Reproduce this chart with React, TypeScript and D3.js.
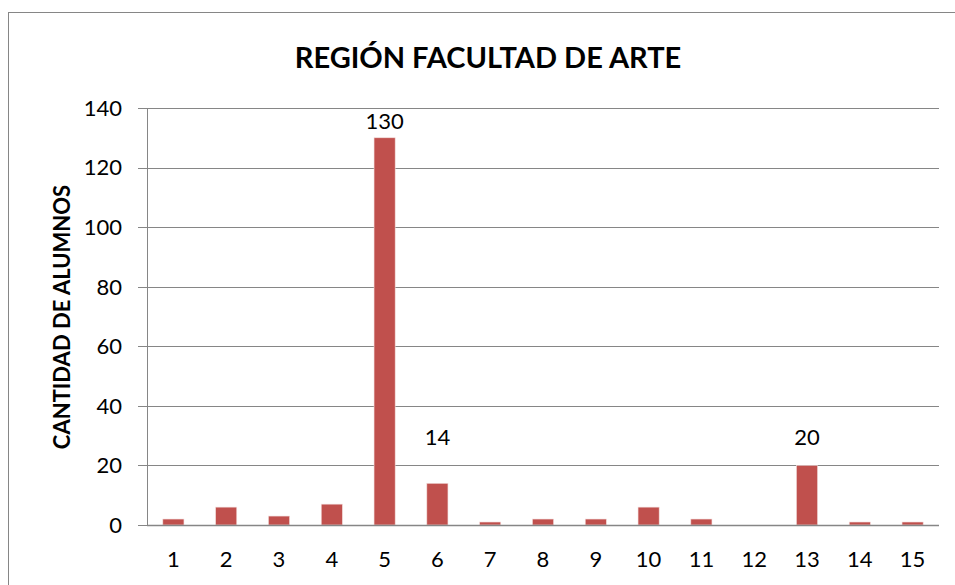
import React, { useEffect, useRef } from 'react';
import * as d3 from 'd3';

const categories = ['1', '2', '3', '4', '5', '6', '7', '8', '9', '10', '11', '12', '13', '14', '15'];
const alumnos = [2, 6, 3, 7, 130, 14, 1, 2, 2, 6, 2, 0, 20, 1, 1];
// only these bars carry a data label (with the label height the chart uses)
const labeled = ['5', '6', '13'];
const labelAt = [130 + 3, 27, 27];
const yTicks = [0, 20, 40, 60, 80, 100, 120, 140];

const App = () => {
    const svgRef = useRef<SVGSVGElement>(null);

    useEffect(() => {
        const svg = d3.select(svgRef.current);
        svg.selectAll('*').remove();

        const font = "Lato, 'Open Sans', sans-serif";
        const left = 147, right = 939, top = 108, bottom = 525;

        // outer chart border
        svg.append('rect')
            .attr('x', 8.5).attr('y', 12.5)
            .attr('width', 960).attr('height', 600)
            .attr('fill', '#fff')
            .attr('stroke', '#868686');

        const x = d3.scaleBand<string>()
            .domain(categories)
            .range([left, right])
            .paddingInner(0.6)
            .paddingOuter(0.3);
        const y = d3.scaleLinear().domain([0, 140]).range([bottom, top]);

        // gridlines
        svg.append('g')
            .selectAll('line')
            .data(yTicks)
            .enter().append('line')
            .attr('x1', left - 9).attr('x2', right)
            .attr('y1', d => Math.round(y(d)) + 0.5)
            .attr('y2', d => Math.round(y(d)) + 0.5)
            .attr('stroke', '#868686');

        // y axis line
        svg.append('line')
            .attr('x1', left + 0.5).attr('x2', left + 0.5)
            .attr('y1', top).attr('y2', bottom)
            .attr('stroke', '#868686');

        svg.append('g')
            .selectAll('text')
            .data(yTicks)
            .enter().append('text')
            .attr('x', 122)
            .attr('y', d => y(d))
            .attr('dy', '0.36em')
            .attr('text-anchor', 'end')
            .attr('font-family', font)
            .attr('font-size', 22)
            .text(d => d);

        // bars
        svg.append('g')
            .selectAll('rect')
            .data(categories)
            .enter().append('rect')
            .attr('x', d => x(d)!)
            .attr('width', x.bandwidth())
            .attr('y', (d, i) => y(alumnos[i]))
            .attr('height', (d, i) => bottom - y(alumnos[i]))
            .attr('fill', '#C0504D')
            .attr('stroke', '#f2dcdb')
            .attr('stroke-width', 0.6);

        // baseline on top
        svg.append('line')
            .attr('x1', left).attr('x2', right)
            .attr('y1', bottom + 0.5).attr('y2', bottom + 0.5)
            .attr('stroke', '#868686')
            .attr('stroke-width', 1.5);

        // x labels
        svg.append('g')
            .selectAll('text')
            .data(categories)
            .enter().append('text')
            .attr('x', d => x(d)! + x.bandwidth() / 2)
            .attr('y', 567)
            .attr('text-anchor', 'middle')
            .attr('font-family', font)
            .attr('font-size', 22)
            .text(d => d);

        // data labels
        svg.append('g')
            .selectAll('text')
            .data(labeled)
            .enter().append('text')
            .attr('x', d => x(d)! + x.bandwidth() / 2)
            .attr('y', (d, i) => y(labelAt[i]))
            .attr('text-anchor', 'middle')
            .attr('font-family', font)
            .attr('font-size', 22)
            .text(d => alumnos[categories.indexOf(d)]);

        // title
        svg.append('text')
            .attr('x', 488).attr('y', 68)
            .attr('text-anchor', 'middle')
            .attr('font-family', font)
            .attr('font-weight', 'bold')
            .attr('font-size', 29)
            .text('REGIÓN FACULTAD DE ARTE');

        // y axis title
        svg.append('text')
            .attr('transform', 'translate(70,317) rotate(-90)')
            .attr('text-anchor', 'middle')
            .attr('font-family', font)
            .attr('font-weight', 'bold')
            .attr('font-size', 22)
            .text('CANTIDAD DE ALUMNOS');
    }, []);

    return (
        <svg ref={svgRef} width={955} height={585}
            style={{ position: 'absolute', left: 0, top: 0, display: 'block' }} />
    );
};

export default App;
